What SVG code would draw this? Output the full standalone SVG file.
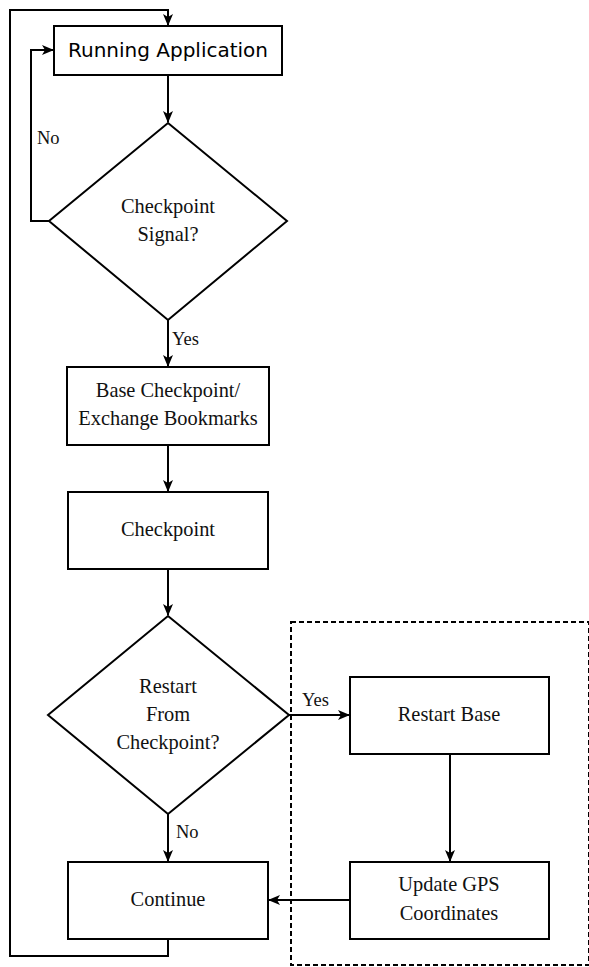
<svg xmlns="http://www.w3.org/2000/svg" width="589" height="967" viewBox="0 0 589 967">
<style>
.box{fill:#fff;stroke:#000;stroke-width:2}
.ln{fill:none;stroke:#000;stroke-width:2}
.t{font-family:"Liberation Serif","Times New Roman",serif;font-size:20.4px;fill:#111;text-anchor:middle;dominant-baseline:central}
.s{font-family:"DejaVu Sans",sans-serif;font-size:20px;fill:#000;text-anchor:middle;dominant-baseline:central}
.l{font-family:"Liberation Serif","Times New Roman",serif;font-size:18.5px;fill:#111;dominant-baseline:central}
</style>
<defs>
<marker id="ah" viewBox="0 0 12 10" refX="11" refY="5" markerWidth="12" markerHeight="10" markerUnits="userSpaceOnUse" orient="auto">
<path d="M0,0 L12,5 L0,10 L3,5 Z" fill="#000"/>
</marker>
</defs>
<rect x="291" y="622" width="298" height="343" fill="none" stroke="#000" stroke-width="2" stroke-dasharray="5 3"/>
<g id="connectors">
<path class="ln" d="M168,75 V122" marker-end="url(#ah)"/>
<path class="ln" d="M49,221 H31 V50 H53" marker-end="url(#ah)"/>
<path class="ln" d="M168,320 V366" marker-end="url(#ah)"/>
<path class="ln" d="M168,445 V491" marker-end="url(#ah)"/>
<path class="ln" d="M168,569 V615" marker-end="url(#ah)"/>
<path class="ln" d="M168,814 V861" marker-end="url(#ah)"/>
<path class="ln" d="M289,715 H349" marker-end="url(#ah)"/>
<path class="ln" d="M450,754 V861" marker-end="url(#ah)"/>
<path class="ln" d="M350,900 H269" marker-end="url(#ah)"/>
<path class="ln" d="M168,939 V956 H10 V10 H168 V25" marker-end="url(#ah)"/>
<text class="l" x="37" y="138">No</text>
<text class="l" x="172" y="339">Yes</text>
<text class="l" x="302" y="700">Yes</text>
<text class="l" x="176" y="832">No</text>
</g>
<g id="running">
<rect class="box" x="54" y="26" width="228" height="49"/>
<text class="s" x="168" y="50">Running Application</text>
</g>
<g id="signal">
<path class="box" d="M168,123 L287,221 L168,320 L49,221 Z"/>
<text class="t" x="168" y="206">Checkpoint</text>
<text class="t" x="168" y="234">Signal?</text>
</g>
<g id="base">
<rect class="box" x="67" y="367" width="202" height="78"/>
<text class="t" x="168" y="390">Base Checkpoint/</text>
<text class="t" x="168" y="418">Exchange Bookmarks</text>
</g>
<g id="checkpoint">
<rect class="box" x="68" y="492" width="200" height="77"/>
<text class="t" x="168" y="529">Checkpoint</text>
</g>
<g id="restart">
<path class="box" d="M168,616 L289,715 L168,814 L48,715 Z"/>
<text class="t" x="168" y="686">Restart</text>
<text class="t" x="168" y="714">From</text>
<text class="t" x="168" y="742">Checkpoint?</text>
</g>
<g id="continue">
<rect class="box" x="68" y="862" width="200" height="77"/>
<text class="t" x="168" y="899">Continue</text>
</g>
<g id="restartbase">
<rect class="box" x="350" y="677" width="199" height="77"/>
<text class="t" x="449" y="714">Restart Base</text>
</g>
<g id="gps">
<rect class="box" x="350" y="862" width="199" height="77"/>
<text class="t" x="449" y="884">Update GPS</text>
<text class="t" x="449" y="913">Coordinates</text>
</g>
</svg>
